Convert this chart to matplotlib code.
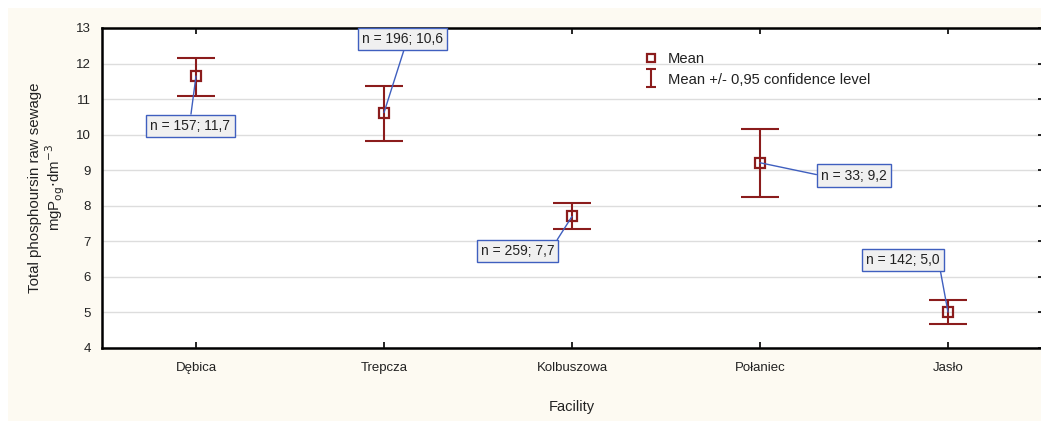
import matplotlib
matplotlib.use('Agg')
import matplotlib.pyplot as plt
from matplotlib.patches import Rectangle
from matplotlib.lines import Line2D
from matplotlib.path import Path

plt.rcParams['font.family'] = ['Liberation Sans', 'DejaVu Sans']

facilities = ['Dębica', 'Trepcza', 'Kolbuszowa', 'Połaniec', 'Jasło']
means = [11.65, 10.62, 7.70, 9.21, 5.01]
ci_lo = [11.09, 9.83, 7.34, 8.26, 4.67]
ci_hi = [12.17, 11.37, 8.09, 10.17, 5.35]
counts = [157, 196, 259, 33, 142]

# where each label box sits (data coords) and where its leader line leaves the box
label_pos = [(-0.03, 10.25), (1.10, 12.69), (1.71, 6.72), (3.50, 8.85), (3.76, 6.47)]
label_rel = [(0.5, 1), (0.53, 0), (1, 1), (0, 0.5), (1, 0)]

red = '#8b1c1c'
blue = '#3f5fbf'
txtc = '#222222'

fig = plt.figure(figsize=(10.41, 4.21), dpi=100, facecolor='white')
fig.patches.append(Rectangle((8/1041, 0), 1, (421-8)/421, transform=fig.transFigure,
                             facecolor='#fdfaf2', edgecolor='none', zorder=-10))
ax = fig.add_axes([102/1041, (421-348)/421, 940/1041, 320/421])
ax.set_facecolor('white')

x = list(range(len(facilities)))
yerr = [[m - lo for m, lo in zip(means, ci_lo)], [hi - m for m, hi in zip(means, ci_hi)]]
ax.errorbar(x, means, yerr=yerr, fmt='none', ecolor=red, elinewidth=1.5,
            capsize=13.5, capthick=1.5, zorder=3)
ax.plot(x, means, 's', ms=6.5, mfc='none', mec=red, mew=1.6, zorder=4)

for i in x:
    txt = f'n = {counts[i]}; {means[i]:.1f}'.replace('.', ',')
    ax.annotate(txt, xy=(i, means[i]), xytext=label_pos[i], ha='center', va='center',
                fontsize=10, color=txtc, zorder=5,
                bbox=dict(boxstyle='square,pad=0.3', fc='#f0f0f0', ec=blue, lw=1),
                arrowprops=dict(arrowstyle='-', color=blue, lw=1, relpos=label_rel[i],
                                shrinkA=0, shrinkB=0))

ax.set_xlim(-0.5, 4.5)
ax.set_ylim(4, 13)
ax.set_yticks(range(4, 14))
ax.set_xticks(x)
ax.set_xticklabels(facilities)
ax.grid(axis='y', color='#dddddd', lw=1)
ax.set_axisbelow(True)
ax.tick_params(axis='x', direction='in', length=4, width=1.2, top=True, labelsize=9.5,
               pad=10, labelcolor=txtc)
ax.tick_params(axis='y', direction='in', length=3, width=1.2, left=False, right=True,
               labelsize=9.5, labelcolor=txtc, pad=8)
for s in ['left', 'top', 'bottom']:
    ax.spines[s].set_linewidth(1.8)
ax.spines['right'].set_visible(False)

ax.set_xlabel('Facility', fontsize=10.5, color=txtc)
ax.xaxis.set_label_coords(0.5, -0.163)
ax.set_ylabel('Total phosphoursin raw sewage\nmgP$_{\\mathrm{og}}$$\\cdot$dm$^{-3}$', fontsize=10.8,
              color=txtc, linespacing=1.1)
ax.yaxis.set_label_coords(-0.037, 0.5)

ibar = Path([(-0.5, -1), (0.5, -1), (0, -1), (0, 1), (-0.5, 1), (0.5, 1)],
            [Path.MOVETO, Path.LINETO, Path.MOVETO, Path.LINETO, Path.MOVETO, Path.LINETO])
handles = [Line2D([], [], marker='s', ls='', ms=5.5, mfc='none', mec=red, mew=1.6),
           Line2D([], [], marker=ibar, ls='', ms=13, mfc='none', mec=red, mew=1.5)]
ax.legend(handles, ['Mean', 'Mean +/- 0,95 confidence level'], loc='upper left',
          bbox_to_anchor=(0.562, 0.965), frameon=False, fontsize=10.6, handlelength=1.0,
          handletextpad=0.65, labelspacing=0.42, labelcolor=txtc)

fig.savefig('out.png', dpi=100, facecolor='white')
